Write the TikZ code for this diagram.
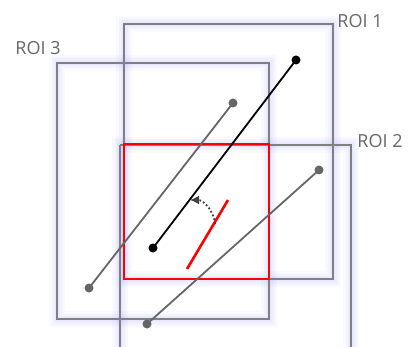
\documentclass[tikz,border=0pt]{standalone}
\usepackage{fontspec}
\setmainfont{Open Sans}
\usetikzlibrary{arrows.meta}

\tikzset{
  roibox/.style={draw=black!50, line width=1.8pt},
  roiglow/.style={draw=blue!50!white, line width=#1, opacity=0.05},
  roilabel/.style={text=black!60, font=\fontsize{18}{20}\selectfont, inner sep=0pt},
  enddot/.style={circle, fill=#1, minimum size=9pt, inner sep=0pt},
}

\begin{document}
\begin{tikzpicture}[x=1pt, y=-1pt]
    \useasboundingbox (0,0) rectangle (409,347);
    % soft glow round the boxes
    \foreach \w in {16pt, 11pt, 7pt, 4pt} {
        \draw[roiglow=\w] (124,24) rectangle (333,279);
        \draw[roiglow=\w] (57,63) rectangle (269,319);
        \draw[roiglow=\w] (120,145) rectangle (351,370);
    }
    % the three ROIs
    \draw[roibox] (124,24) rectangle (333,279);
    \draw[roibox] (57,63) rectangle (269,319);
    \draw[roibox] (120,145) -- (351,145) -- (351,350) (120,145) -- (120,350);
    \draw[red, line width=1.9pt] (124,144) rectangle (269,279);
    \node[roilabel] (roi1) at (360,21) {ROI 1};
    \node[roilabel] (roi3) at (38,48) {ROI 3};
    \node[roilabel] (roi2) at (380,141) {ROI 2};
    % segments
    \node[enddot=black] (a1) at (153,248) {};
    \node[enddot=black] (a2) at (296,60) {};
    \node[enddot=black!60] (b1) at (89,288) {};
    \node[enddot=black!60] (b2) at (233,103) {};
    \node[enddot=black!60] (c1) at (147,324) {};
    \node[enddot=black!60] (c2) at (319,170) {};
    \draw[black, line width=1.8pt] (a1.center) -- (a2.center);
    \draw[black!60, line width=1.8pt] (b1.center) -- (b2.center);
    \draw[black!60, line width=1.8pt] (c1.center) -- (c2.center);
    \coordinate (r1) at (187,269);
    \coordinate (r2) at (228,200);
    \draw[red, line width=2.6pt] (r1) -- (r2);
    % rotation arrow
    \coordinate (s) at (215,224);
    \coordinate (t) at (190,200);
    \draw[black!75, line width=1.8pt, dash pattern=on 1.8pt off 2.2pt, -{Latex[length=9pt, width=9pt]}] (s) to[out=95, in=0] (t);
\end{tikzpicture}
\end{document}
